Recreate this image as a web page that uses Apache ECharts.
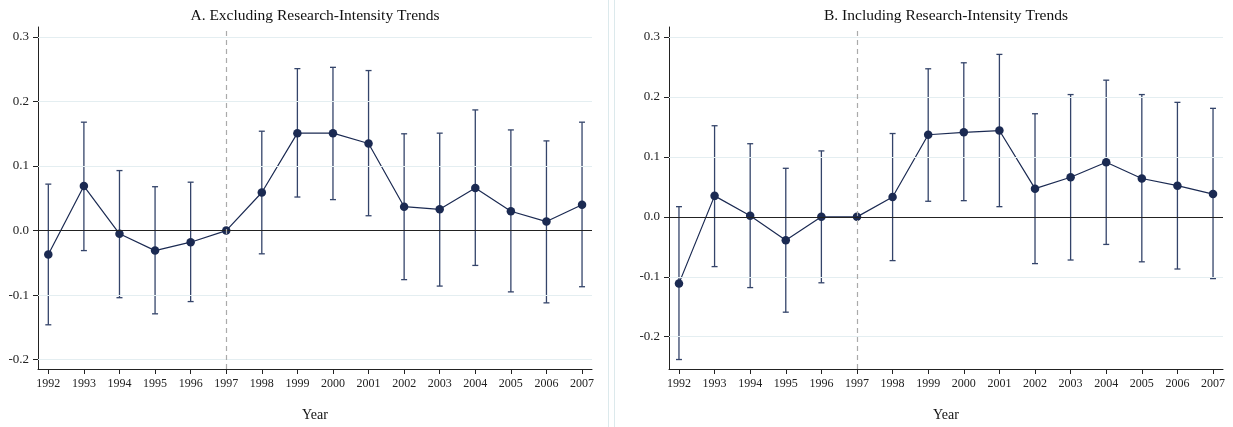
<!DOCTYPE html>
<html>
<head>
<meta charset="utf-8">
<script src="https://cdn.jsdelivr.net/npm/echarts@6/dist/echarts.min.js"></script>
<style>
html,body{margin:0;padding:0;background:#fff;}
#chart{width:1233px;height:427px;}
</style>
</head>
<body>
<div id="chart"></div>
<script>
const years = [1992,1993,1994,1995,1996,1997,1998,1999,2000,2001,2002,2003,2004,2005,2006,2007];
const yTicks = [-0.2,-0.1,0.0,0.1,0.2,0.3];
const titleA = 'A. Excluding Research-Intensity Trends';
const titleB = 'B. Including Research-Intensity Trends';
const xName = 'Year';
const eventYear = 1997;

const estA  = [-0.037, 0.069,-0.005,-0.031,-0.018, 0.000, 0.059, 0.151, 0.151, 0.135, 0.037, 0.033, 0.066, 0.030, 0.014, 0.040];
const highA = [ 0.072, 0.168, 0.093, 0.068, 0.075, 0.000, 0.154, 0.251, 0.253, 0.248, 0.150, 0.151, 0.187, 0.156, 0.139, 0.168];
const lowA  = [-0.146,-0.031,-0.104,-0.129,-0.110, 0.000,-0.036, 0.052, 0.048, 0.023,-0.076,-0.086,-0.054,-0.095,-0.112,-0.087];

const estB  = [-0.111, 0.035, 0.002,-0.039, 0.000, 0.000, 0.033, 0.137, 0.141, 0.144, 0.047, 0.066, 0.091, 0.064, 0.052, 0.038];
const highB = [ 0.017, 0.152, 0.122, 0.081, 0.110, 0.000, 0.139, 0.247, 0.257, 0.271, 0.172, 0.204, 0.228, 0.204, 0.191, 0.181];
const lowB  = [-0.238,-0.083,-0.118,-0.159,-0.110, 0.000,-0.073, 0.026, 0.027, 0.017,-0.078,-0.072,-0.046,-0.075,-0.087,-0.103];

const SERIF = '"Liberation Serif","DejaVu Serif",serif';
const NAVY = '#1b2a52';
const BAR = '#34446a';

const chart = echarts.init(document.getElementById('chart'));

function xAxisCfg(idx, minV, maxV){
  return {
    type:'value', gridIndex:idx, min:minV, max:maxV, position:'bottom',
    axisLine:{show:true,onZero:false,lineStyle:{color:'#222',width:1}},
    axisTick:{show:true,length:5,lineStyle:{color:'#222'},customValues:years},
    axisLabel:{show:true,customValues:years,margin:9,fontFamily:SERIF,fontSize:12,color:'#222',formatter:v=>String(Math.round(v))},
    splitLine:{show:false}
  };
}
function yAxisCfg(idx, minV, maxV){
  return {
    type:'value', gridIndex:idx, min:minV, max:maxV, position:'left',
    axisLine:{show:true,onZero:false,lineStyle:{color:'#222',width:1}},
    axisTick:{show:true,length:5,lineStyle:{color:'#222'},customValues:yTicks},
    axisLabel:{show:true,customValues:yTicks,margin:9,fontFamily:SERIF,fontSize:13,color:'#222',formatter:v=>v.toFixed(1)},
    splitLine:{show:false}
  };
}

function errSeries(idx, low, high){
  return {
    type:'custom', xAxisIndex:idx, yAxisIndex:idx, z:3,
    data: years.map((y,i)=>[y, low[i], high[i]]),
    renderItem:function(params, api){
      const x = api.value(0);
      const lo = api.coord([x, api.value(1)]);
      const hi = api.coord([x, api.value(2)]);
      const w = 3;
      const st = {stroke:BAR, lineWidth:1.3};
      return {type:'group', children:[
        {type:'line', shape:{x1:lo[0],y1:lo[1],x2:hi[0],y2:hi[1]}, style:st},
        {type:'line', shape:{x1:lo[0]-w,y1:lo[1],x2:lo[0]+w,y2:lo[1]}, style:st},
        {type:'line', shape:{x1:hi[0]-w,y1:hi[1],x2:hi[0]+w,y2:hi[1]}, style:st}
      ]};
    },
    silent:true
  };
}

function refSeries(idx){
  return {
    type:'line', xAxisIndex:idx, yAxisIndex:idx, data:[], z:1, silent:true,
    markLine:{
      silent:true, symbol:'none', label:{show:false},
      data: yTicks.filter(t=>t!==0).map(t=>({yAxis:t, lineStyle:{color:'#e4eef1',width:1,type:'solid'}}))
        .concat([{yAxis:0, lineStyle:{color:'#222',width:1,type:'solid'}},
                 {xAxis:eventYear, lineStyle:{color:'#aaaaaa',width:1.2,type:[5,4]}}])
    }
  };
}

function lineSeries(idx, est){
  return {
    type:'line', xAxisIndex:idx, yAxisIndex:idx, z:4,
    data: years.map((y,i)=>[y, est[i]]),
    symbol:'circle', symbolSize:8.5,
    itemStyle:{color:NAVY},
    lineStyle:{color:NAVY,width:1.2},
    animation:false
  };
}

chart.setOption({
  animation:false,
  backgroundColor:'#ffffff',
  grid:[
    {left:38, top:27, width:554, height:342, containLabel:false},
    {left:669, top:27, width:554, height:342, containLabel:false}
  ],
  xAxis:[xAxisCfg(0,1991.71,2007.28), xAxisCfg(1,1991.72,2007.28)],
  yAxis:[yAxisCfg(0,-0.2145,0.3155), yAxisCfg(1,-0.2538,0.3167)],
  graphic:[
    {type:'rect', shape:{x:608,y:0,width:1,height:427}, style:{fill:'#dce9ec'}},
    {type:'rect', shape:{x:614,y:0,width:1,height:427}, style:{fill:'#dce9ec'}},
    {type:'text', x:315, y:16, style:{text:titleA, font:'15.5px '+SERIF, fill:'#111', align:'center', verticalAlign:'middle'}},
    {type:'text', x:946, y:16, style:{text:titleB, font:'15.5px '+SERIF, fill:'#111', align:'center', verticalAlign:'middle'}},
    {type:'text', x:315, y:415, style:{text:xName, font:'14px '+SERIF, fill:'#111', align:'center', verticalAlign:'middle'}},
    {type:'text', x:946, y:415, style:{text:xName, font:'14px '+SERIF, fill:'#111', align:'center', verticalAlign:'middle'}}
  ],
  series:[
    refSeries(0), errSeries(0,lowA,highA), lineSeries(0,estA),
    refSeries(1), errSeries(1,lowB,highB), lineSeries(1,estB)
  ]
});
</script>
</body>
</html>
